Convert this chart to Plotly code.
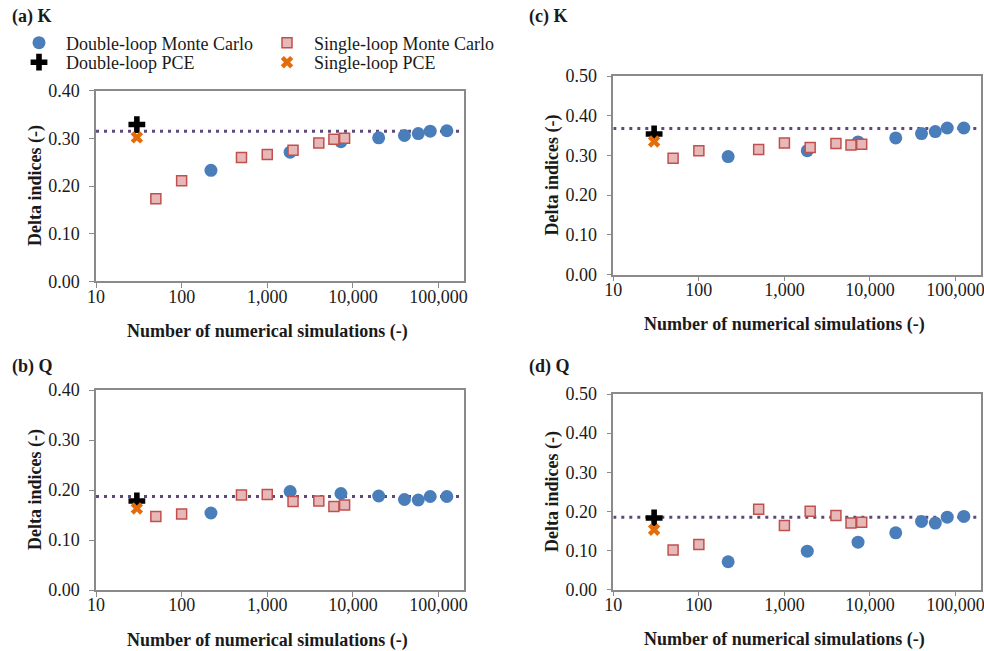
import plotly.graph_objects as go

W, H = 984, 651

# ---------------- data ----------------
n_pce = [30]
n_single = [50, 100, 500, 1000, 2000, 4000, 6000, 8000]
n_double = [220, 1850, 7250, 20000, 40000, 58000, 80000, 125000]
n_ref = [10, 200000]

# (a) K
a_double = [0.233, 0.271, 0.293, 0.301, 0.306, 0.310, 0.315, 0.316]
a_single = [0.173, 0.211, 0.260, 0.266, 0.275, 0.290, 0.298, 0.300]
a_dpce = [0.329]
a_spce = [0.302]
a_ref = [0.315, 0.315]

# (b) Q
b_double = [0.154, 0.197, 0.193, 0.188, 0.181, 0.180, 0.187, 0.187]
b_single = [0.147, 0.152, 0.190, 0.191, 0.177, 0.178, 0.167, 0.170]
b_dpce = [0.178]
b_spce = [0.163]
b_ref = [0.187, 0.187]

# (c) K
c_double = [0.297, 0.312, 0.334, 0.344, 0.355, 0.360, 0.369, 0.369]
c_single = [0.293, 0.312, 0.315, 0.331, 0.320, 0.330, 0.326, 0.328]
c_dpce = [0.354]
c_spce = [0.335]
c_ref = [0.368, 0.368]

# (d) Q
d_double = [0.071, 0.098, 0.121, 0.145, 0.174, 0.170, 0.185, 0.187]
d_single = [0.101, 0.115, 0.205, 0.164, 0.200, 0.189, 0.170, 0.172]
d_dpce = [0.183]
d_spce = [0.153]
d_ref = [0.185, 0.185]

x_tickvals = [10, 100, 1000, 10000, 100000]
x_ticktext = ["10", "100", "1,000", "10,000", "100,000"]

panel_labels = ["(a) K", "(b) Q", "(c) K", "(d) Q"]
x_title = "Number of numerical simulations (-)"
y_title = "Delta indices (-)"
legend_names = ["Double-loop Monte Carlo", "Double-loop PCE",
                "Single-loop Monte Carlo", "Single-loop PCE"]

# ---------------- styling ----------------
FONT = "Liberation Serif, Times New Roman, Times, serif"
FS = 18
TXT = "#1a1a1a"
AX = "#8a8a8a"
BLUE = "#4a7ebb"
SQ_FILL = "#e6b9b8"
SQ_LINE = "#c0504d"
ORANGE = "#e46c0a"
PURPLE = "#5f497a"

def px_x(p):
    return p / W

def px_y(p):
    return 1 - p / H

# panel boxes in pixels
panels = [
    dict(l=96, r=464.3, t=90.7, b=281.3, ymax=0.40, lab_y=17, data=(a_double, a_single, a_dpce, a_spce, a_ref)),
    dict(l=96, r=464.3, t=390, b=590, ymax=0.40, lab_y=366, data=(b_double, b_single, b_dpce, b_spce, b_ref)),
    dict(l=613.3, r=981.3, t=76, b=274.5, ymax=0.50, lab_y=17, data=(c_double, c_single, c_dpce, c_spce, c_ref)),
    dict(l=613.3, r=981.3, t=394, b=589.5, ymax=0.50, lab_y=366, data=(d_double, d_single, d_dpce, d_spce, d_ref)),
]

fig = go.Figure()
layout = dict(
    template="none",
    width=W, height=H,
    margin=dict(l=0, r=0, t=0, b=0, autoexpand=False),
    paper_bgcolor="white", plot_bgcolor="white",
    font=dict(family=FONT, size=FS, color=TXT),
    showlegend=True,
)
annotations = []

legend_pos = {
    "legend": (39, 43), "legend2": (39, 62.5),
    "legend3": (287, 43), "legend4": (287, 62.5),
}
for key, (sx, sy) in legend_pos.items():
    layout[key] = dict(
        x=px_x(sx - 27), y=px_y(sy), xanchor="left", yanchor="middle",
        bgcolor="rgba(0,0,0,0)", borderwidth=0, itemwidth=44,
        font=dict(family=FONT, size=FS, color=TXT),
        orientation="v", tracegroupgap=0,
    )

for i, p in enumerate(panels):
    k = "" if i == 0 else str(i + 1)
    xa, ya = "x" + k, "y" + k
    dbl, sgl, dpce, spce, ref = p["data"]
    first = i == 0
    fig.add_trace(go.Scatter(
        x=n_ref, y=ref, mode="lines", xaxis=xa, yaxis=ya, showlegend=False,
        line=dict(color=PURPLE, width=3, dash="3px,5px"), hoverinfo="skip"))
    fig.add_trace(go.Scatter(
        x=n_double, y=dbl, mode="markers", xaxis=xa, yaxis=ya,
        name=legend_names[0], showlegend=first, legend="legend",
        marker=dict(symbol="circle", size=13, color=BLUE, line=dict(width=0))))
    fig.add_trace(go.Scatter(
        x=n_single, y=sgl, mode="markers", xaxis=xa, yaxis=ya,
        name=legend_names[2], showlegend=first, legend="legend3",
        marker=dict(symbol="square", size=10, color=SQ_FILL, line=dict(width=1.5, color=SQ_LINE))))
    fig.add_trace(go.Scatter(
        x=n_pce, y=dpce, mode="markers", xaxis=xa, yaxis=ya,
        name=legend_names[1], showlegend=first, legend="legend2",
        marker=dict(symbol="cross", size=14, color="black", line=dict(width=0))))
    fig.add_trace(go.Scatter(
        x=n_pce, y=spce, mode="markers", xaxis=xa, yaxis=ya,
        name=legend_names[3], showlegend=first, legend="legend4",
        marker=dict(symbol="x", size=11, color=ORANGE, line=dict(width=0))))

    axis_common = dict(
        showline=True, linecolor=AX, linewidth=1.5, mirror=True,
        ticks="outside", ticklen=5, tickwidth=1, tickcolor=AX,
        showgrid=False, zeroline=False, automargin=False,
        ticklabeloverflow="allow",
        tickfont=dict(family=FONT, size=FS, color=TXT),
    )
    layout["xaxis" + k] = dict(
        axis_common, type="log", range=[1, 5.301],
        domain=[px_x(p["l"]), px_x(p["r"])], anchor=ya,
        tickvals=x_tickvals, ticktext=x_ticktext, ticklabelstandoff=-7,
    )
    layout["yaxis" + k] = dict(
        axis_common, range=[0, p["ymax"]], dtick=0.1, tick0=0, tickformat=".2f",
        domain=[px_y(p["b"]), px_y(p["t"])], anchor=xa, ticklabelstandoff=6,
    )
    annotations.append(dict(
        text="<b>%s</b>" % panel_labels[i], xref="paper", yref="paper",
        x=px_x(p["l"] - 86), y=px_y(p["lab_y"]),
        xanchor="left", yanchor="middle", showarrow=False,
        font=dict(family=FONT, size=FS, color=TXT)))
    annotations.append(dict(
        text="<b>%s</b>" % x_title, xref="paper", yref="paper",
        x=px_x((p["l"] + p["r"]) / 2 - 12.5), y=px_y(p["b"] + 50),
        xanchor="center", yanchor="middle", showarrow=False,
        font=dict(family=FONT, size=FS, color=TXT)))
    annotations.append(dict(
        text="<b>%s</b>" % y_title, xref="paper", yref="paper",
        x=px_x(p["l"] - 61), y=px_y((p["t"] + p["b"]) / 2),
        xanchor="center", yanchor="middle", showarrow=False, textangle=-90,
        font=dict(family=FONT, size=FS, color=TXT)))

layout["annotations"] = annotations
fig.update_layout(**layout)
fig.write_html("out.html")
